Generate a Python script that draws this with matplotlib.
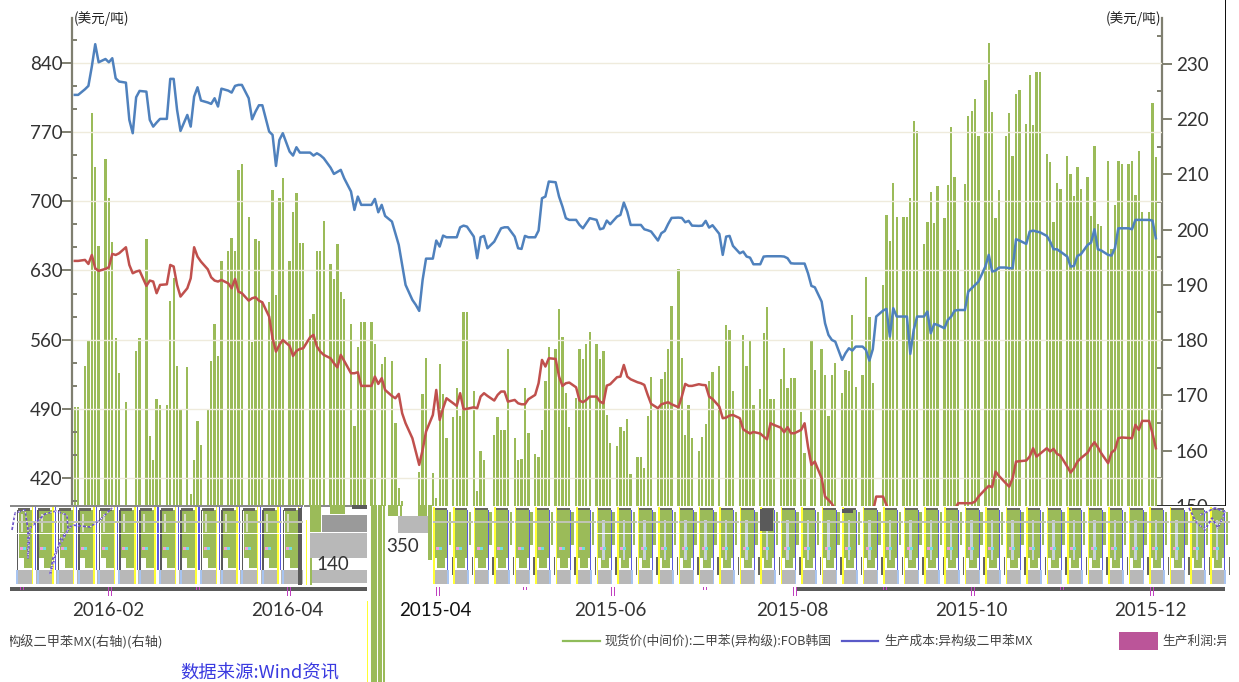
import numpy as np
import pandas as pd
import matplotlib
matplotlib.use('Agg')
import matplotlib.pyplot as plt
from matplotlib.patches import Rectangle
from matplotlib.ticker import FixedLocator

# ---- data (weekly rows: Mon..Fri; first row = last Thu, Fri of the opening week)
spot_price = [
 807.7,807.7,
 813.4,816.8,836.3,859.0,840.7, 844.0,840.7,844.8,824.5,821.2, 820.1,782.4,768.9,805.3,811.7,
 811.0,782.4,775.6,779.7,783.4, 783.4,823.9,823.9,792.5,771.2, 787.4,775.6,806.0,815.4,802.0,
 800.0,798.6,804.3,795.9,814.0, 812.0,810.0,816.8,817.8,817.8, 804.3,783.0,790.8,797.2,797.2,
 770.6,767.2,735.8,762.1,768.9, 750.3,746.3,754.7,749.3,749.3, 749.3,746.3,748.6,746.6,743.6,
 734.1,727.7,729.8,731.8,723.3, 709.9,691.3,704.8,696.4,696.4, 696.4,702.4,688.9,696.4,685.2,
 679.5,667.7,655.9,635.6,615.4, 600.2,595.2,589.1,620.5,642.0, 642.0,660.3,654.2,665.3,663.6,
 663.6,663.6,673.7,675.4,674.4, 664.3,642.4,663.6,665.0,652.5, 659.2,666.0,672.7,673.7,673.7,
 664.3,652.5,651.8,665.0,663.6, 663.6,670.4,703.1,704.8,720.0, 719.3,704.8,694.7,682.9,681.2,
 681.2,676.1,672.7,677.8,682.9, 681.2,671.7,672.7,680.5,676.8, 684.5,686.2,698.7,689.6,676.1,
 676.1,676.1,671.7,670.7,669.4, 660.3,667.7,670.0,677.1,683.2, 683.5,683.2,678.8,680.2,675.4,
 675.1,675.4,680.2,673.4,675.8, 667.0,645.8,664.3,665.0,654.9, 647.4,649.1,644.1,643.0,636.3,
 636.3,644.1,644.4,644.4,644.4, 644.4,644.1,642.4,637.3,637.0, 637.0,637.0,627.2,614.4,613.0,
 598.5,576.6,564.8,559.7,558.0, 539.5,546.3,551.3,549.0,553.0, 553.0,549.6,538.8,550.3,583.4,
 589.4,591.1,563.1,591.8,583.4, 583.4,583.4,545.6,569.9,583.4, 583.4,588.4,566.5,575.9,574.9,
 571.6,580.0,583.4,589.4,590.0, 590.0,608.7,612.0,615.4,618.8, 634.0,645.8,628.9,629.9,633.0,
 633.0,632.3,632.3,661.6,660.3, 656.9,669.4,670.4,669.4,668.7, 665.0,659.3,651.5,651.5,649.1,
 644.1,634.0,634.6,644.8,646.4, 655.9,658.2,671.7,651.5,650.2, 645.8,645.1,652.5,672.7,672.7,
 672.7,671.7,681.2,681.2,681.2, 681.2,680.5,662.6]

production_cost = [
 639.7,639.7,
 640.7,636.6,645.7,632.2,629.6, 631.6,633.3,646.8,645.7,647.4, 653.5,635.6,627.2,628.9,629.9,
 614.4,619.8,618.8,607.0,615.4, 616.0,635.6,634.0,615.4,603.6, 612.0,622.1,653.5,644.0,639.0,
 631.2,623.1,619.8,618.8,620.4, 617.0,612.0,621.5,608.6,607.0, 599.5,601.9,602.9,599.5,597.8,
 583.3,561.4,547.9,554.7,559.7, 553.7,543.5,548.6,550.6,551.3, 562.4,564.8,553.0,547.9,544.6,
 541.2,536.1,532.0,544.6,538.5, 526.0,526.0,527.0,513.2,513.2, 513.2,522.6,515.2,521.0,509.1,
 503.0,500.7,505.1,485.5,475.4, 460.2,446.8,433.3,448.4,467.0, 483.8,509.1,478.8,490.6,500.7,
 495.6,493.0,505.8,489.6,490.0, 491.6,490.6,502.4,505.8,503.1, 498.4,504.1,507.5,507.5,497.3,
 499.0,495.6,494.6,494.6,499.7, 504.1,515.9,539.5,532.8,541.2, 540.5,522.6,513.2,515.9,516.6,
 511.8,498.4,496.7,499.0,502.4, 502.4,497.3,495.6,513.5,514.9, 522.0,522.6,534.4,522.6,519.9,
 516.9,515.9,514.2,504.1,495.0, 490.6,494.6,495.6,496.7,494.6, 491.6,502.4,515.2,513.2,513.2,
 514.9,514.2,513.9,502.4,500.0, 492.3,480.5,481.1,483.2,483.8, 480.5,469.3,467.0,465.0,466.6,
 465.0,461.9,459.2,475.4,473.7, 471.0,466.3,471.4,465.3,465.3, 468.7,475.4,451.8,433.3,436.6,
 419.8,401.2,397.8,394.0,388.0, 385.0,380.0,382.0,385.0,385.0, 385.0,383.0,380.0,385.0,401.2,
 401.2,392.8,385.0,388.0,386.0, 385.0,387.0,378.0,384.0,386.0, 385.0,386.0,380.0,383.0,384.0,
 383.0,385.0,386.0,388.0,394.5, 394.5,394.5,394.5,396.2,401.2, 408.6,412.0,410.7,426.5,422.1,
 414.7,411.3,419.8,436.6,437.0, 437.7,441.7,450.1,441.7,444.4, 450.1,446.8,449.5,444.4,442.7,
 431.6,425.5,429.9,436.6,440.0, 445.7,451.8,456.2,451.1,445.0, 435.0,445.7,448.5,460.3,461.0,
 460.6,460.3,473.8,468.7,477.8, 477.8,465.3,450.1]

production_profit = [
 167.9,167.9,
 175.3,179.8,221.1,211.3,197.0, 212.8,205.7,197.7,180.4,174.1, 168.7,147,147,178.0,180.4,
 198.3,162.6,158.3,169.3,168.3, 168.3,187.0,191.3,175.3,167.6, 175.1,152.2,158.3,165.3,161.0,
 167.6,176.3,182.9,177.1,194.4, 196.2,198.5,196.1,210.8,211.9, 202.2,179.6,198.3,198.0,187.0,
 186.9,207.1,188.1,205.7,209.3, 194.4,203.2,206.7,197.6,197.6, 183.9,184.8,196.2,196.2,201.6,
 193.7,191.1,197.3,188.7,187.5, 182.9,164.4,178.8,183.3,183.3, 183.3,179.2,147,175.7,177.0,
 176.3,164.9,153.3,150.9,147, 147,147,156.1,170.2,176.8, 156.0,151.5,175.7,170.2,162.3,
 166.1,171.4,166.3,185.0,185.0, 170.8,152.7,159.9,158.2,147, 162.8,166.1,163.7,163.7,178.4,
 162.3,158.2,158.4,171.4,163.1, 159.3,158.9,163.8,172.5,178.8, 178.3,185.6,180.6,170.4,164.2,
 169.6,178.4,176.5,179.2,181.5, 179.2,176.6,178.1,166.4,161.4, 160.9,164.2,163.5,165.8,155.7,
 158.8,158.8,156.9,166.3,173.4, 167.8,173.0,174.2,178.3,186.2, 192.8,176.7,162.9,168.2,162.3,
 159.9,162.5,164.8,172.6,174.2, 175.3,147,182.7,181.9,170.8, 165.4,180.9,175.3,179.8,168.2,
 171.2,181.3,185.9,169.3,169.3, 173.0,178.6,171.4,173.1,173.1, 167.0,159.5,147,180.1,174.5,
 178.4,173.6,166.3,173.6,175.9, 170.4,174.5,174.4,184.6,171.5, 173.6,191.5,184.2,172.3,147,
 190.0,202.7,197.9,208.4,202.3, 202.3,202.3,205.7,219.7,217.9, 197.3,201.4,206.8,201.2,207.8,
 202.1,208.0,218.5,209.6,196.3, 208.3,220.5,221.4,223.7,217.0, 227.1,233.8,221.2,202.1,207.1,
 217.0,221.1,213.3,224.6,225.3, 219.1,228.0,219.0,228.5,228.5, 213.6,212.2,201.4,208.4,207.3,
 213.4,210.1,206.1,211.3,207.3, 209.6,202.4,215.2,201.0,200.6, 212.5,196.4,204.5,212.5,211.9,
 211.9,212.5,206.3,214.2,203.2, 203.2,223.0,213.1]

dates = pd.bdate_range('2014-11-27', periods=len(spot_price))
tick_labels = ['2016-02', '2016-04', '2015-04', '2015-06', '2015-08', '2015-10', '2015-12']
tick_slots = [6.7, 59.2, 102.6, 153.9, 207.3, 260.0, 312.4]
left_ticks = [420, 490, 560, 630, 700, 770, 840]
right_ticks = [150, 160, 170, 180, 190, 200, 210, 220, 230]
unit_label = '(美元/吨)'
legend_green = '现货价(中间价):二甲苯(异构级):FOB韩国'
legend_purple = '生产成本:异构级二甲苯MX'
legend_bar = '生产利润:异'
legend_cut = '构级二甲苯MX(右轴)(右轴)'
source_label = '数据来源:Wind资讯'

# Each week occupies six slots: five trading days and one empty slot
monday0 = pd.Timestamp('2014-12-01')
slots = np.array([((d - monday0).days // 7) * 6 + d.weekday() for d in dates])

W, H = 1239, 682
CJK = ['Noto Sans CJK SC', 'DejaVu Sans']
NUM = 'Lato'
fig = plt.figure(figsize=(W / 100, H / 100), dpi=100, facecolor='white')
rect = [72 / W, 1 - 587 / H, (1162 - 72) / W, (587 - 18) / H]
ax_r = fig.add_axes(rect, zorder=1)
ax_l = fig.add_axes(rect, zorder=2)
ax_l.patch.set_visible(False)

ax_r.set_ylim(135.3, 238.3)
ax_r.bar(slots, np.array(production_profit) - 130.0, width=0.68, bottom=130.0,
         color='#9BBB59', linewidth=0)
ax_l.plot(slots, spot_price, color='#4F81BD', lw=1.8, solid_joinstyle='round')
ax_l.plot(slots, production_cost, color='#C0504D', lw=1.8, solid_joinstyle='round')

for a in (ax_l, ax_r):
    a.set_xlim(-3.81, 315.8)
    for s in ('top', 'bottom', 'left', 'right'):
        a.spines[s].set_visible(False)
ax_l.set_ylim(309.7, 885.5)
ax_r.set_ylim(135.3, 238.3)

ax_l.spines['left'].set_visible(True)
ax_l.spines['left'].set_color('#7f7f70')
ax_l.spines['left'].set_linewidth(1.6)
ax_r.spines['right'].set_visible(True)
ax_r.spines['right'].set_color('#7f7f70')
ax_r.spines['right'].set_linewidth(1.6)

ax_l.yaxis.tick_left()
ax_l.set_yticks(left_ticks)
ax_l.yaxis.set_minor_locator(FixedLocator([v for b in range(350, 890, 70) for v in (b + 70 / 3, b + 140 / 3)]))
ax_l.tick_params(axis='y', which='major', direction='out', length=7, width=1.4, color='#7f7f70',
                 labelsize=13.5, labelcolor='#333333', pad=0)
ax_l.tick_params(axis='y', which='minor', direction='in', length=3.5, width=1.4, color='#7f7f70')
ax_l.grid(axis='y', which='major', color='#efebdc', lw=1.0)
ax_l.set_axisbelow(True)

ax_r.yaxis.tick_right()
ax_r.set_yticks(right_ticks)
ax_r.yaxis.set_minor_locator(FixedLocator([v + 5 for v in range(140, 235, 10)]))
ax_r.tick_params(axis='y', which='major', direction='out', length=7, width=1.4, color='#7f7f70',
                 labelsize=13.5, labelcolor='#333333', pad=3)
ax_r.tick_params(axis='y', which='minor', direction='in', length=3.5, width=1.4, color='#7f7f70')

ax_r.set_xticks([])
ax_l.set_xticks(tick_slots)
ax_l.set_xticklabels(tick_labels)
ax_l.tick_params(axis='x', length=0, pad=11, labelsize=13.5, labelcolor='#333333')
for t in ax_l.get_xticklabels() + ax_l.get_yticklabels() + ax_r.get_yticklabels():
    t.set_fontfamily(NUM)
ax_l.get_xticklabels()[2].set_color('#111111')

# ---- overlay in pixel coordinates: the corrupted strip of the screenshot
ov = fig.add_axes([0, 0, 1, 1], zorder=10)
ov.set_xlim(0, W)
ov.set_ylim(H, 0)
ov.axis('off')
ov.patch.set_visible(False)


def box(x0, x1, y0, y1, c, z=1, **kw):
    ov.add_patch(Rectangle((x0, y0), x1 - x0, y1 - y0, facecolor=c, edgecolor='none', zorder=z, clip_on=True, **kw))


GREEN, YEL, BLUE, DARK, GRAY = '#9BBB59', '#ffff33', '#5a5ae0', '#5a5a5a', '#b8b8b8'
box(0, W, 505.5, 592, 'white', 0)
box(10, 367, 505, 507, '#8a8a8a')
box(1157, 1226, 504.5, 506, '#333333')
box(1224.5, 1226, 0, 506, '#111111')

# left part of the strip
for o in np.arange(16.7, 285, 20.46):
    box(o + 2, o + 15, 510, 558, GREEN)
    box(o + 2, o + 7, 558, 566, 'white')
    box(o + 7, o + 15, 558, 568, GREEN)
    box(o + 4, o + 6, 514, 532, '#d8dcc8')
    box(o + 1, o + 13, 508, 510.5, '#66665e')
    box(o, o + 1.6, 510, 571, DARK)
    box(o + 15, o + 16.5, 507, 584, YEL)
    box(o + 18, o + 19.2, 507, 570, BLUE)
    box(o + 16.5, o + 18, 507, 584, 'white')
    box(o + 1.5, o + 15, 570, 584, GRAY)
    box(o - 0.5, o + 1.5, 570, 584, '#a8c4f0')
    box(o + 19.2, o + 20, 570, 584, GRAY)
    box(o, o + 20, 521, 523, '#c0c4b4', 2)
    box(o, o + 20, 533, 534, 'white', 2)
    box(o + 3, o + 6, 547, 549.5, '#f0a0d8', 2)
    box(o + 6, o + 9, 547, 549.5, '#70e0e0', 2)

# right part of the strip
for i, o in enumerate(np.arange(433, 1222, 20.46)):
    box(o + 1.5, o + 14, 510, 558, GREEN)
    box(o + 4, o + 12, 558, 568, GREEN)
    box(o + 15.5, o + 18, 512, 545, GREEN)
    if o > 590:
        box(o + 5.5, o + 8, 520, 560, '#c8d2d8', 2)
        box(o, o + 20, 533, 534, 'white', 2)
    box(o + 1.5, o + 14, 508, 510, '#66665e')
    box(o, o + 1.5, 507, 584, YEL)
    box(o + 14, o + 15, 510, 570, BLUE)
    box(o + 18.5, o + 20, 557, 575, '#66665e')
    box(o + 1.5, o + 14, 570, 584, GRAY)
    box(o + 14, o + 15.5, 570, 584, '#a8c4f0')
    box(o, o + 20, 521, 523, '#c0c4b4', 2)
    box(o + 3, o + 6, 547, 549.5, '#f0a0d8', 2)
    box(o + 6, o + 9, 547, 549.5, '#70e0e0', 2)
box(760, 773, 509, 531, DARK, 3)
box(842, 853, 509, 513, DARK, 3)

# the broken block in the middle
box(298, 302, 508, 585, DARK)
box(303, 304, 505, 585, 'white')
box(305.5, 307, 520, 585, YEL)
box(310, 312, 533, 585, GREEN)
box(310, 321, 505, 532, GREEN)
box(330, 345, 505, 514, GREEN)
box(322, 367, 515, 532, '#9a9a9a')
box(310, 367, 533, 558, GRAY)
box(312, 367, 570, 583, GRAY)
box(352, 367, 505, 509, DARK)
box(388, 398, 505, 516, GREEN)
box(400, 402, 505, 516, GREEN)
box(418, 427, 505, 516, GREEN)
box(398, 428, 516, 533, GRAY)
box(428, 432, 505, 560, GREEN)
box(371.3, 376.7, 505, H, GREEN)
box(377.7, 382.3, 505, H, GREEN)
box(383.3, 385, 505, H, GREEN)
box(367, 368, 601, H, YEL)
box(10, 300, 587, 591, DARK)
box(300, 367, 587, 591, DARK)
box(797, 1225, 587, 591, DARK)
for mx in [22, 110, 198, 289, 438, 525, 613, 705, 795, 885, 973, 1062, 1152]:
    tall = mx in (110, 289, 438, 613, 795, 973, 1152)
    box(mx - 2.5, mx - 1, 587, 596 if tall else 590, '#c040c0', 4)
    box(mx + 0.5, mx + 2, 587, 596 if tall else 590, '#c040c0', 4)

# scribbles of the corrupted zones
scrib_x = [12, 15, 25, 28, 28, 30, 45, 56, 67, 68, 53, 50, 60, 72, 90, 100, 112]
scrib_y = [530, 513, 510, 530, 558, 528, 514, 511, 515, 530, 558, 575, 540, 525, 527, 520, 508]
ov.plot(scrib_x, scrib_y, color='#6a50c8', lw=1.2, ls=(0, (2, 1)), zorder=5)
ov.plot(scrib_x, scrib_y, color='white', lw=0.8, ls=(1, (1, 3)), zorder=5)
scrib2_x = [1189, 1196, 1205, 1212, 1218, 1225, 1215, 1200]
scrib2_y = [508, 522, 530, 518, 528, 512, 508, 515]
ov.plot(scrib2_x, scrib2_y, color='#6a50c8', lw=1.2, ls=(0, (2, 1)), zorder=5)
ov.plot(scrib2_x, scrib2_y, color='white', lw=0.8, ls=(1, (1, 3)), zorder=5)

# texts on the overlay
ov.text(333, 564, '140', fontsize=13.5, family=NUM, color='#333333', ha='center', va='center', zorder=6)
ov.text(403, 547, '350', fontsize=13.5, family=NUM, color='#333333', ha='center', va='center', zorder=6)
ov.text(74, 18.5, unit_label, fontsize=9.8, family=CJK, color='#222222', va='center', ha='left', zorder=6)
ov.text(1161, 18.5, unit_label, fontsize=9.8, family=CJK, color='#222222', va='center', ha='right', zorder=6)

ov.plot([563, 600], [641, 641], color='#8fbc5a', lw=1.6)
ov.plot([842, 878], [641, 641], color='#5a5ac8', lw=1.6)
box(1119, 1158, 632, 650, '#bb5599')
ov.text(604, 641, legend_green, fontsize=9.15, family=CJK, color='#444444', va='center', ha='left')
ov.text(884, 641, legend_purple, fontsize=9.15, family=CJK, color='#444444', va='center', ha='left')
t = ov.text(1162, 641, legend_bar, fontsize=9.15, family=CJK, color='#444444', va='center', ha='left')
t2 = ov.text(163, 642, legend_cut, fontsize=9.5, family=CJK, color='#444444', va='center', ha='right')
t2.set_clip_on(True)
t2.set_clip_path(Rectangle((10, 600), 160, 80, transform=ov.transData))
t.set_clip_on(True)
t.set_clip_path(Rectangle((1160, 600), 66, 80, transform=ov.transData))
ov.text(180, 673, source_label, fontsize=13.2, family=CJK, style='italic', color='#3a3ae0', va='center', ha='left')

assert len(spot_price) == len(production_cost) == len(production_profit), (
    len(spot_price), len(production_cost), len(production_profit))
fig.savefig('out.png', dpi=100)
